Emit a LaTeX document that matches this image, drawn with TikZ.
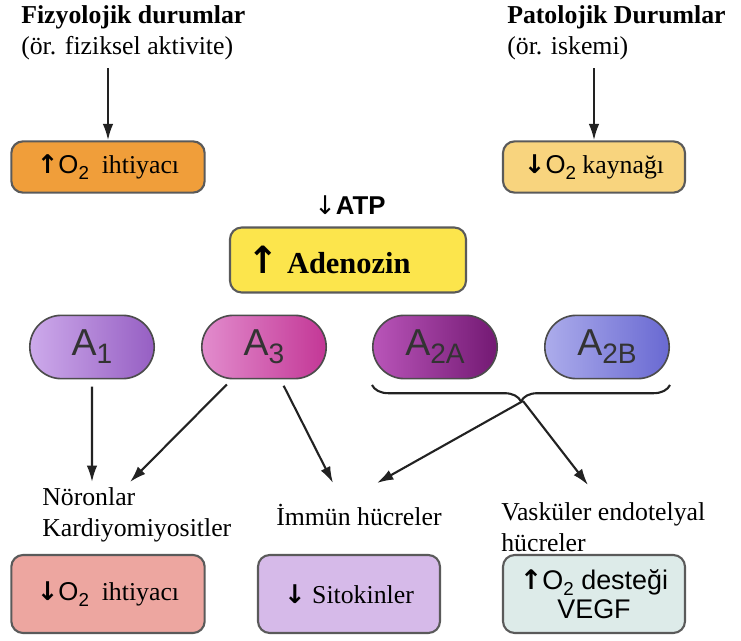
\documentclass[tikz,border=0pt]{standalone}
\usepackage{fontspec}
\setmainfont{Liberation Serif}
\setsansfont{Liberation Sans}
\newfontfamily\arrowfont{DejaVu Sans}
\usepackage{tikz}
\usetikzlibrary{
    positioning,
    arrows.meta,
    shapes.misc,
    decorations.pathreplacing
  }
\definecolor{lineclr}{HTML}{222222}
\definecolor{boxline}{HTML}{5A5A5A}
\definecolor{orangebox}{HTML}{F09E3A}
\definecolor{sandbox}{HTML}{F8D47E}
\definecolor{adenobox}{HTML}{FCE54C}
\definecolor{pinkbox}{HTML}{EDA6A0}
\definecolor{lilacbox}{HTML}{D6BAE9}
\definecolor{icebox}{HTML}{DDEBE9}
\definecolor{aonel}{RGB}{205,170,235}
\definecolor{aonem}{RGB}{214,184,242}
\definecolor{aoner}{RGB}{150,95,195}
\definecolor{athreel}{RGB}{226,140,205}
\definecolor{athreem}{RGB}{232,152,212}
\definecolor{athreer}{RGB}{195,55,150}
\definecolor{atwoal}{RGB}{185,85,185}
\definecolor{atwoam}{RGB}{182,82,182}
\definecolor{atwoar}{RGB}{115,25,115}
\definecolor{atwobl}{RGB}{172,172,235}
\definecolor{atwobm}{RGB}{180,180,240}
\definecolor{atwobr}{RGB}{105,105,210}
\tikzstyle{box}=[draw=boxline,line width=0.9pt,rounded corners=5pt,inner sep=2pt]
\tikzstyle{pill}=[rounded rectangle,draw=black!70,line width=0.7pt,minimum width=2.1cm,minimum height=0.95cm,text=black!80,font=\sffamily\fontsize{16}{18}\selectfont]
\tikzstyle{arr}=[draw=lineclr,line width=0.9pt,-{Latex[length=7pt,width=4.5pt]}]
\newcommand{\arrup}{{\arrowfont\bfseries\char"2191}}
\newcommand{\arrdown}{{\arrowfont\bfseries\char"2193}}
\newcommand{\Otwo}{{\sffamily O\raisebox{-0.45ex}{\footnotesize 2}}}
\newcommand{\recsub}[1]{\raisebox{-0.4ex}{\fontsize{12}{12}\selectfont #1}}

\begin{document}
\begin{tikzpicture}[x=0.015cm,y=-0.015cm,font=\fontsize{11}{13}\selectfont]
  \useasboundingbox (0,0) rectangle (741,641);
  \node[anchor=west,align=left] (fiz) at (13,33) {\textbf{Fizyolojik durumlar}\\(ör. fiziksel aktivite)};
  \node[anchor=west,align=left] (pat) at (499,33) {\textbf{Patolojik Durumlar}\\(ör. iskemi)};
  \node[box,fill=orangebox,minimum width=2.9cm,minimum height=0.77cm] (need) at (108,167) {\arrup\Otwo\enspace ihtiyacı};
  \node[box,fill=sandbox,minimum width=2.73cm,minimum height=0.77cm] (supply) at (594,167) {\arrdown\Otwo\ kaynağı};
  \draw[arr] (fiz.south -| need) -- (need);
  \draw[arr] (pat.south -| supply) -- (supply);
%
  \node (atp) at (350,205) {{\arrowfont\char"2193}\textsf{\textbf{ATP}}};
  \node[box,fill=adenobox,text width=3.0cm,inner xsep=0.27cm,minimum height=0.975cm,align=left,font=\fontsize{13}{15}\selectfont] (ado) at (348,260) {{\fontsize{16}{16}\selectfont\arrup}\hspace{0.25em}\textbf{Adenozin}};
%
  \node[pill,left color=aonel,middle color=aonem,right color=aoner] (a1) at (92,347) {A\recsub{1}};
  \node[pill,left color=athreel,middle color=athreem,right color=athreer] (a3) at (264,347) {A\recsub{3}};
  \node[pill,left color=atwoal,middle color=atwoam,right color=atwoar] (a2a) at (435,347) {A\recsub{2A}};
  \node[pill,left color=atwobl,middle color=atwobm,right color=atwobr] (a2b) at (607,347) {A\recsub{2B}};
  \draw[decorate,decoration={brace,mirror,amplitude=7pt},draw=lineclr,line width=0.9pt] (a2a.west |- 0,385) -- (a2b.east |- 0,385);
  \coordinate (tip) at (523,401);
%
  \node[anchor=west,align=left] (nor) at (34,515) {Nöronlar\\Kardiyomiyositler};
  \node[anchor=west] (imm) at (268,515) {İmmün hücreler};
  \node[anchor=west,align=left] (vas) at (493,527) {Vasküler endotelyal\\hücreler};
  \coordinate (norA) at (92,482);
  \coordinate (norB) at (130,482);
  \coordinate (immL) at (333,483);
  \coordinate (immR) at (377,483);
  \coordinate (vasT) at (588,485);
  \draw[arr,shorten <=3pt] (a1) -- (norA);
  \draw[arr,shorten <=3pt] (a3) -- (norB);
  \draw[arr,shorten <=3pt] (a3) -- (immL);
  \draw[arr] (tip) -- (immR);
  \draw[arr] (tip) -- (vasT);
%
  \node[box,fill=pinkbox,minimum width=2.9cm,minimum height=1.17cm] (less) at (108,594) {\arrdown\Otwo\enspace ihtiyacı};
  \node[box,fill=lilacbox,minimum width=2.73cm,minimum height=1.17cm] (cyto) at (349,594) {\arrdown\ Sitokinler};
  \node[box,fill=icebox,minimum width=2.73cm,minimum height=1.17cm,align=center,font=\sffamily\fontsize{11.5}{12.5}\selectfont] (vegf) at (594,594) {\arrup\Otwo\ desteği\\VEGF};
\end{tikzpicture}
\end{document}
